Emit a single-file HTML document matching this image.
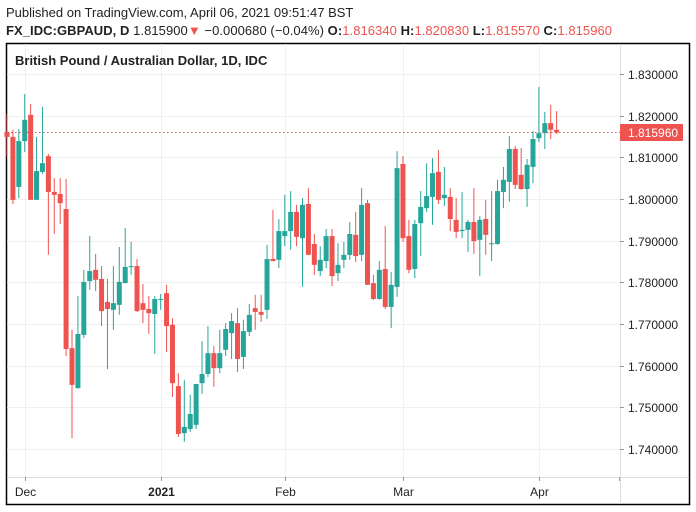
<!DOCTYPE html>
<html><head><meta charset="utf-8"><style>
body{margin:0;background:#fff;width:696px;height:512px;overflow:hidden;font-family:"Liberation Sans","DejaVu Sans",sans-serif}
svg{display:block}
</style></head><body>
<svg id="chart" width="696" height="512" xmlns="http://www.w3.org/2000/svg">
<text x="6" y="17" font-size="13" fill="#222">Published on TradingView.com, April 06, 2021 09:51:47 BST</text>
<text x="6" y="35" font-size="13" fill="#222" textLength="606" lengthAdjust="spacing"><tspan font-weight="bold">FX_IDC:GBPAUD, D</tspan> 1.815900<tspan fill="#ef5350">▼</tspan> −0.000680 (−0.04%) <tspan font-weight="bold">O:</tspan><tspan fill="#ef5350">1.816340</tspan> <tspan font-weight="bold">H:</tspan><tspan fill="#ef5350">1.820830</tspan> <tspan font-weight="bold">L:</tspan><tspan fill="#ef5350">1.815570</tspan> <tspan font-weight="bold">C:</tspan><tspan fill="#ef5350">1.815960</tspan></text>
<rect x="6.5" y="43.5" width="683" height="461" fill="none" stroke="#000" stroke-width="1.5"/>
<g id="grid"></g>
<line x1="620.5" y1="44" x2="620.5" y2="504" stroke="#ddd"/>
<line x1="7" y1="477.5" x2="689" y2="477.5" stroke="#ddd"/>
<g id="candles"></g>
<g id="axes"></g>
<text x="15" y="65" font-size="13" font-weight="bold" fill="#222">British Pound / Australian Dollar, 1D, IDC</text>
</svg>
<script>
const opens=[1.8161,1.8149,1.8029,1.8139,1.8202,1.7998,1.8065,1.8103,1.8017,1.8012,1.7976,1.7642,1.7546,1.7674,1.7803,1.7830,1.7808,1.7753,1.7734,1.7746,1.7798,1.7837,1.7839,1.7750,1.7736,1.7724,1.7759,1.7774,1.7698,1.7551,1.7438,1.7448,1.7458,1.7558,1.7580,1.7630,1.7594,1.7638,1.7678,1.7702,1.7621,1.7681,1.7738,1.7729,1.7734,1.7856,1.7854,1.7911,1.7923,1.7969,1.7906,1.7988,1.7892,1.7827,1.7851,1.7911,1.7822,1.7854,1.7866,1.7914,1.7866,1.7990,1.7798,1.7760,1.7832,1.7741,1.7789,1.8084,1.7911,1.7832,1.7942,1.7978,1.8005,1.8065,1.8002,1.8005,1.7950,1.7923,1.7926,1.7945,1.7902,1.7952,1.7892,1.7892,1.8017,1.8041,1.8120,1.8058,1.8024,1.8077,1.8146,1.8158,1.8182,1.8166];
const highs=[1.8204,1.8166,1.8168,1.8252,1.8228,1.8149,1.8221,1.8108,1.8050,1.8050,1.8048,1.7686,1.7767,1.7830,1.7911,1.7868,1.7839,1.7808,1.7839,1.7885,1.7930,1.7897,1.7856,1.7796,1.7767,1.7767,1.7772,1.7794,1.7714,1.7582,1.7566,1.7530,1.7556,1.7659,1.7695,1.7647,1.7686,1.7702,1.7726,1.7738,1.7710,1.7748,1.7770,1.7770,1.7890,1.7974,1.7952,1.8010,1.8019,1.7986,1.8002,1.8026,1.7916,1.7887,1.7928,1.7928,1.7894,1.7897,1.7945,1.7969,1.8026,1.7998,1.7818,1.7851,1.7935,1.7825,1.8115,1.8103,1.7950,1.7950,1.8019,1.8086,1.8098,1.8118,1.8077,1.8026,1.8002,1.8017,1.7950,1.8026,1.7959,1.7998,1.8019,1.8046,1.8077,1.8151,1.8127,1.8122,1.8096,1.8163,1.8269,1.8209,1.8226,1.8211];
const lows=[1.8103,1.7988,1.8002,1.8113,1.7998,1.7998,1.8060,1.7866,1.7916,1.7940,1.7623,1.7426,1.7546,1.7666,1.7782,1.7779,1.7695,1.7592,1.7686,1.7722,1.7798,1.7818,1.7729,1.7702,1.7676,1.7628,1.7734,1.7633,1.7525,1.7429,1.7417,1.7441,1.7448,1.7532,1.7573,1.7549,1.7582,1.7623,1.7616,1.7585,1.7592,1.7671,1.7686,1.7705,1.7712,1.7851,1.7834,1.7887,1.7878,1.7887,1.7789,1.7866,1.7818,1.7815,1.7834,1.7791,1.7803,1.7834,1.7854,1.7849,1.7851,1.7794,1.7758,1.7758,1.7736,1.7690,1.7765,1.7897,1.7822,1.7810,1.7863,1.7969,1.7938,1.7988,1.7983,1.7923,1.7906,1.7906,1.7873,1.7868,1.7815,1.7866,1.7851,1.7890,1.7978,1.7993,1.8024,1.8022,1.7981,1.8038,1.8137,1.8120,1.8144,1.8156];
const closes=[1.8149,1.7998,1.8139,1.8190,1.7998,1.8067,1.8086,1.8017,1.8010,1.7990,1.7640,1.7554,1.7676,1.7801,1.7827,1.7806,1.7731,1.7736,1.7750,1.7801,1.7837,1.7839,1.7731,1.7734,1.7726,1.7760,1.7760,1.7695,1.7558,1.7436,1.7453,1.7484,1.7556,1.7580,1.7630,1.7594,1.7630,1.7688,1.7707,1.7616,1.7683,1.7722,1.7729,1.7722,1.7856,1.7851,1.7923,1.7923,1.7969,1.7909,1.7986,1.7866,1.7842,1.7854,1.7911,1.7815,1.7842,1.7866,1.7916,1.7863,1.7986,1.7794,1.7760,1.7830,1.7741,1.7794,1.8074,1.7906,1.7830,1.7940,1.7981,1.8007,1.8062,1.7998,1.8010,1.7952,1.7921,1.7926,1.7945,1.7899,1.7950,1.7914,1.7894,1.8019,1.8046,1.8120,1.8034,1.8024,1.8082,1.8144,1.8158,1.8182,1.8166,1.8160];
const priceTicks=[1.83,1.82,1.81,1.80,1.79,1.78,1.77,1.76,1.75,1.74];
const timeLabels=["Dec","2021","Feb","Mar","Apr"];
const timeIndex=[3,26,47,67,90];
const lastPrice=1.81596;

const NS="http://www.w3.org/2000/svg";
const yOf=p=>74+(1.83-p)*4166.7;
const xOf=i=>7+i*5.91;
function mk(tag,attrs,parent){const e=document.createElementNS(NS,tag);for(const k in attrs)e.setAttribute(k,attrs[k]);parent.appendChild(e);return e;}
const grid=document.getElementById('grid'),cg=document.getElementById('candles'),ax=document.getElementById('axes');
priceTicks.forEach(p=>{const y=Math.round(yOf(p))+0.5;
 const g=mk('line',{x1:7,x2:620,y1:y,y2:y,stroke:'#f0f0f0'},grid);
 
 
 mk('line',{x1:620,x2:624,y1:y,y2:y,stroke:'#999'},ax);
 const t=mk('text',{x:628,y:y+4.5,'font-size':12,fill:'#222'},ax);t.textContent=p.toFixed(6);
 
 
});
timeLabels.forEach((l,k)=>{const x=Math.round(xOf(timeIndex[k]))+0.5;
 const g=mk('line',{x1:x,x2:x,y1:44,y2:477,stroke:'#f0f0f0'},grid);
 
 
 mk('line',{x1:x,x2:x,y1:477,y2:481,stroke:'#999'},ax);
 const t=mk('text',{x:x,y:496,'font-size':12,fill:'#222','text-anchor':'middle','font-weight':l==='2021'?'bold':'normal'},ax);t.textContent=l;
 
 
});
{const x=619.5;mk('line',{x1:x,x2:x,y1:477,y2:481,stroke:'#999'},ax);}
opens.forEach((o,i)=>{const c=closes[i],up=c>=o,col=up?'#26a69a':'#ef5350';const x=xOf(i);
 const w=mk('line',{x1:x,x2:x,y1:yOf(highs[i]),y2:yOf(lows[i]),stroke:col,'stroke-width':1},cg);
 
 
 const top=yOf(Math.max(o,c)),bot=yOf(Math.min(o,c));
 const r=mk('rect',{x:x-2.5,y:top,width:5,height:Math.max(1,bot-top),fill:col},cg);
 
 
});
const ly=yOf(lastPrice);
const dl=mk('line',{x1:7,x2:620,y1:ly,y2:ly,stroke:'#ef5350','stroke-dasharray':'1.5,2.5'},ax);


const lb=mk('rect',{x:620,y:ly-8.5,width:63,height:17,fill:'#ef5350',rx:1},ax);


const lt=mk('text',{x:628,y:ly+4.5,'font-size':12,fill:'#fff'},ax);lt.textContent=lastPrice.toFixed(6);


</script>
</body></html>
